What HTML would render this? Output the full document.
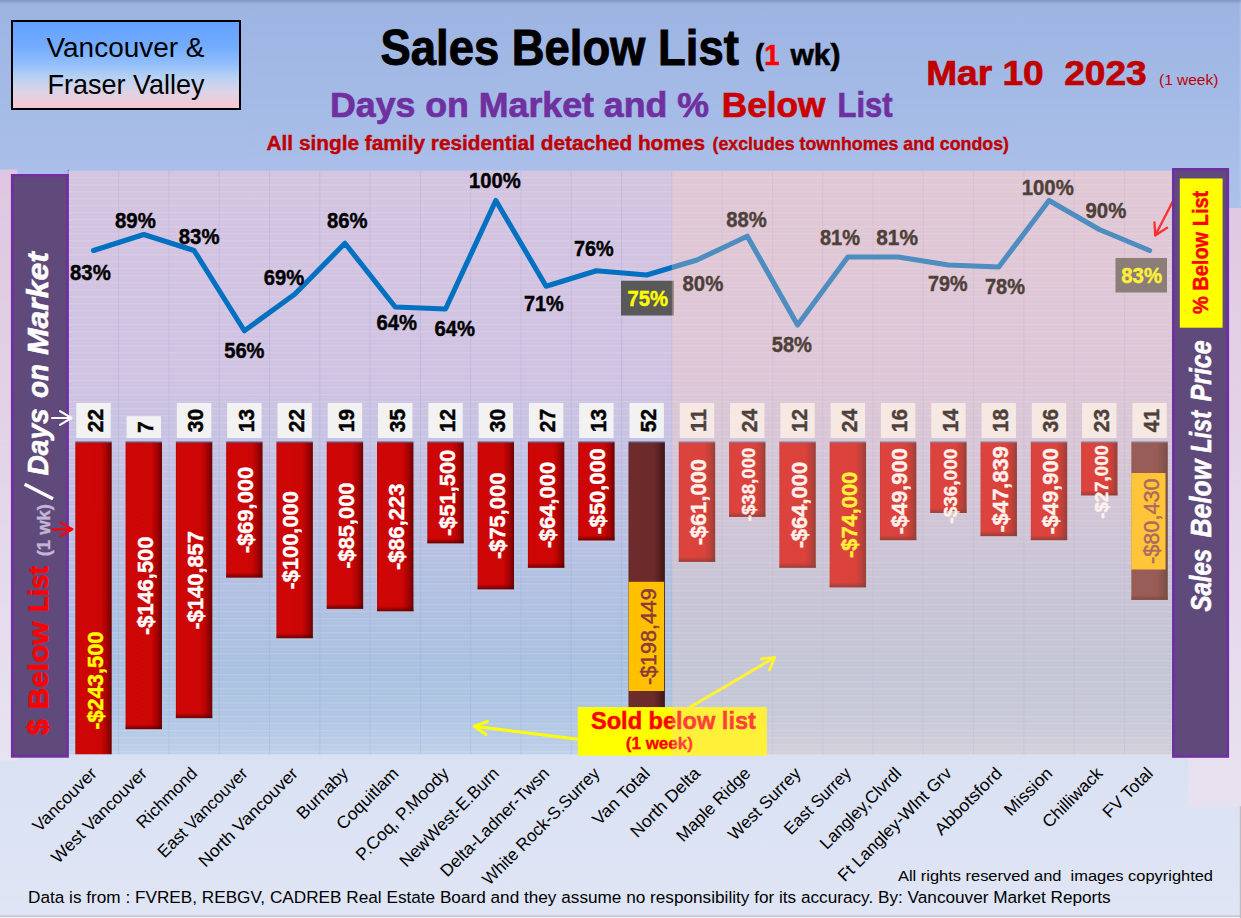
<!DOCTYPE html>
<html><head><meta charset="utf-8"><title>Sales Below List</title>
<style>html,body{margin:0;padding:0;background:#dfe5f5;}body{width:1241px;height:918px;overflow:hidden;}svg{display:block;}text{font-family:"Liberation Sans", sans-serif;}
.b{font-weight:bold;}.i{font-style:italic;}
</style></head><body>
<svg width="1241" height="918" viewBox="0 0 1241 918">
<defs>
<linearGradient id="bg" x1="0" y1="0" x2="0" y2="1"><stop offset="0" stop-color="#9db4e3"/><stop offset="0.18" stop-color="#a9bfe9"/><stop offset="0.85" stop-color="#dbe2f3"/><stop offset="1" stop-color="#dfe5f5"/></linearGradient>
<linearGradient id="topband" x1="0" y1="0" x2="0" y2="1"><stop offset="0" stop-color="#7f8fb6" stop-opacity="0.9"/><stop offset="1" stop-color="#7f8fb6" stop-opacity="0"/></linearGradient>
<linearGradient id="plot" x1="0" y1="0" x2="0" y2="1"><stop offset="0" stop-color="#d3c4e0"/><stop offset="0.35" stop-color="#cfc3e2"/><stop offset="0.50" stop-color="#c3c2e2"/><stop offset="0.62" stop-color="#b9c1e1"/><stop offset="0.735" stop-color="#afc0e0"/><stop offset="0.855" stop-color="#a8c2e0"/><stop offset="0.93" stop-color="#aec6e3"/><stop offset="1" stop-color="#bdd0e9"/></linearGradient>
<linearGradient id="vbox" x1="0" y1="0" x2="0" y2="1"><stop offset="0" stop-color="#639fff"/><stop offset="0.30" stop-color="#74adff"/><stop offset="0.50" stop-color="#94c0fb"/><stop offset="0.65" stop-color="#b9d2f3"/><stop offset="0.80" stop-color="#dcd3e6"/><stop offset="1" stop-color="#f9c7cf"/></linearGradient>
<linearGradient id="lstrip" x1="0" y1="0" x2="0" y2="1"><stop offset="0" stop-color="#dfc6e0"/><stop offset="1" stop-color="#e7e3f1"/></linearGradient>
<linearGradient id="rstrip" x1="0" y1="0" x2="0" y2="1"><stop offset="0" stop-color="#e0c9e2"/><stop offset="1" stop-color="#e8e2f0"/></linearGradient>
<linearGradient id="barR" x1="0" y1="0" x2="1" y2="0"><stop offset="0" stop-color="#b80404"/><stop offset="0.05" stop-color="#cf0606"/><stop offset="0.70" stop-color="#cc0505"/><stop offset="0.86" stop-color="#a60303"/><stop offset="1" stop-color="#6c0000"/></linearGradient>
<linearGradient id="barM" x1="0" y1="0" x2="1" y2="0"><stop offset="0" stop-color="#632626"/><stop offset="0.05" stop-color="#6e2b2b"/><stop offset="0.70" stop-color="#6c2a2a"/><stop offset="0.86" stop-color="#552020"/><stop offset="1" stop-color="#3e1717"/></linearGradient>
<linearGradient id="barBot" x1="0" y1="0" x2="0" y2="1"><stop offset="0" stop-color="#500000" stop-opacity="0"/><stop offset="1" stop-color="#4a0000" stop-opacity="0.75"/></linearGradient>
<pattern id="hstripe" x="0" y="170.0" width="8" height="7" patternUnits="userSpaceOnUse"><rect x="0" y="0" width="8" height="1.4" fill="#fff0ff" fill-opacity="0.15"/><rect x="0" y="3.5" width="8" height="1.2" fill="#fff0ff" fill-opacity="0.06"/></pattern>
<clipPath id="plotclip"><rect x="68.36" y="170.80" width="1103.24" height="583.50"/></clipPath>
</defs>
<rect x="0" y="0" width="1241" height="918" fill="url(#bg)"/>
<rect x="0" y="0" width="1241" height="4" fill="url(#topband)"/>
<rect x="0" y="915.6" width="1241" height="1.2" fill="#b4b6bc"/>
<rect x="0" y="916.8" width="1241" height="1.2" fill="#f2f2f4"/>
<rect x="1239.8" y="806" width="1.2" height="112" fill="#bcbcc2"/>
<rect x="1239.6" y="0" width="1.4" height="206" fill="#ffffff" fill-opacity="0.12"/>
<rect x="0" y="169.6" width="17.4" height="591" fill="url(#lstrip)"/>
<rect x="1188.3" y="208" width="52.7" height="598.3" fill="url(#rstrip)"/>
<rect x="67.9" y="169.8" width="1" height="5" fill="#5a5070"/>
<rect x="68.36" y="170.80" width="1103.24" height="583.50" fill="url(#plot)"/>
<rect x="68.36" y="170.80" width="1103.24" height="583.50" fill="url(#hstripe)"/>
<rect x="118.15" y="170.80" width="1" height="583.50" fill="#9aa0dc" fill-opacity="0.28"/>
<rect x="168.44" y="170.80" width="1" height="583.50" fill="#9aa0dc" fill-opacity="0.28"/>
<rect x="218.73" y="170.80" width="1" height="583.50" fill="#9aa0dc" fill-opacity="0.28"/>
<rect x="269.01" y="170.80" width="1" height="583.50" fill="#9aa0dc" fill-opacity="0.28"/>
<rect x="319.31" y="170.80" width="1" height="583.50" fill="#9aa0dc" fill-opacity="0.28"/>
<rect x="369.60" y="170.80" width="1" height="583.50" fill="#9aa0dc" fill-opacity="0.28"/>
<rect x="419.88" y="170.80" width="1" height="583.50" fill="#9aa0dc" fill-opacity="0.28"/>
<rect x="470.18" y="170.80" width="1" height="583.50" fill="#9aa0dc" fill-opacity="0.28"/>
<rect x="520.47" y="170.80" width="1" height="583.50" fill="#9aa0dc" fill-opacity="0.28"/>
<rect x="570.75" y="170.80" width="1" height="583.50" fill="#9aa0dc" fill-opacity="0.28"/>
<rect x="621.04" y="170.80" width="1" height="583.50" fill="#9aa0dc" fill-opacity="0.28"/>
<rect x="671.34" y="170.80" width="1" height="583.50" fill="#9aa0dc" fill-opacity="0.28"/>
<rect x="721.62" y="170.80" width="1" height="583.50" fill="#9aa0dc" fill-opacity="0.28"/>
<rect x="771.91" y="170.80" width="1" height="583.50" fill="#9aa0dc" fill-opacity="0.28"/>
<rect x="822.21" y="170.80" width="1" height="583.50" fill="#9aa0dc" fill-opacity="0.28"/>
<rect x="872.50" y="170.80" width="1" height="583.50" fill="#9aa0dc" fill-opacity="0.28"/>
<rect x="922.78" y="170.80" width="1" height="583.50" fill="#9aa0dc" fill-opacity="0.28"/>
<rect x="973.08" y="170.80" width="1" height="583.50" fill="#9aa0dc" fill-opacity="0.28"/>
<rect x="1023.37" y="170.80" width="1" height="583.50" fill="#9aa0dc" fill-opacity="0.28"/>
<rect x="1073.65" y="170.80" width="1" height="583.50" fill="#9aa0dc" fill-opacity="0.28"/>
<rect x="1123.94" y="170.80" width="1" height="583.50" fill="#9aa0dc" fill-opacity="0.28"/>
<g clip-path="url(#plotclip)">
<rect x="75.30" y="442.50" width="36.40" height="476.41" fill="url(#barR)"/>
<rect x="75.30" y="441.50" width="36.40" height="1.2" fill="#2a2f6a" fill-opacity="0.75"/>
<rect x="125.59" y="442.50" width="36.40" height="286.63" fill="url(#barR)"/>
<rect x="125.59" y="724.13" width="36.40" height="5" fill="url(#barBot)"/>
<rect x="125.59" y="441.50" width="36.40" height="1.2" fill="#2a2f6a" fill-opacity="0.75"/>
<rect x="175.88" y="442.50" width="36.40" height="275.59" fill="url(#barR)"/>
<rect x="175.88" y="713.09" width="36.40" height="5" fill="url(#barBot)"/>
<rect x="175.88" y="441.50" width="36.40" height="1.2" fill="#2a2f6a" fill-opacity="0.75"/>
<rect x="226.17" y="442.50" width="36.40" height="135.00" fill="url(#barR)"/>
<rect x="226.17" y="572.50" width="36.40" height="5" fill="url(#barBot)"/>
<rect x="226.17" y="441.50" width="36.40" height="1.2" fill="#2a2f6a" fill-opacity="0.75"/>
<rect x="276.46" y="442.50" width="36.40" height="195.65" fill="url(#barR)"/>
<rect x="276.46" y="633.15" width="36.40" height="5" fill="url(#barBot)"/>
<rect x="276.46" y="441.50" width="36.40" height="1.2" fill="#2a2f6a" fill-opacity="0.75"/>
<rect x="326.75" y="442.50" width="36.40" height="166.30" fill="url(#barR)"/>
<rect x="326.75" y="603.80" width="36.40" height="5" fill="url(#barBot)"/>
<rect x="326.75" y="441.50" width="36.40" height="1.2" fill="#2a2f6a" fill-opacity="0.75"/>
<rect x="377.04" y="442.50" width="36.40" height="168.70" fill="url(#barR)"/>
<rect x="377.04" y="606.20" width="36.40" height="5" fill="url(#barBot)"/>
<rect x="377.04" y="441.50" width="36.40" height="1.2" fill="#2a2f6a" fill-opacity="0.75"/>
<rect x="427.33" y="442.50" width="36.40" height="100.76" fill="url(#barR)"/>
<rect x="427.33" y="538.26" width="36.40" height="5" fill="url(#barBot)"/>
<rect x="427.33" y="441.50" width="36.40" height="1.2" fill="#2a2f6a" fill-opacity="0.75"/>
<rect x="477.62" y="442.50" width="36.40" height="146.74" fill="url(#barR)"/>
<rect x="477.62" y="584.24" width="36.40" height="5" fill="url(#barBot)"/>
<rect x="477.62" y="441.50" width="36.40" height="1.2" fill="#2a2f6a" fill-opacity="0.75"/>
<rect x="527.91" y="442.50" width="36.40" height="125.22" fill="url(#barR)"/>
<rect x="527.91" y="562.72" width="36.40" height="5" fill="url(#barBot)"/>
<rect x="527.91" y="441.50" width="36.40" height="1.2" fill="#2a2f6a" fill-opacity="0.75"/>
<rect x="578.20" y="442.50" width="36.40" height="97.83" fill="url(#barR)"/>
<rect x="578.20" y="535.33" width="36.40" height="5" fill="url(#barBot)"/>
<rect x="578.20" y="441.50" width="36.40" height="1.2" fill="#2a2f6a" fill-opacity="0.75"/>
<rect x="628.49" y="442.50" width="36.40" height="388.27" fill="url(#barM)"/>
<rect x="628.49" y="441.50" width="36.40" height="1.2" fill="#2a2f6a" fill-opacity="0.75"/>
<rect x="678.78" y="442.50" width="36.40" height="119.35" fill="url(#barR)"/>
<rect x="678.78" y="556.85" width="36.40" height="5" fill="url(#barBot)"/>
<rect x="678.78" y="441.50" width="36.40" height="1.2" fill="#2a2f6a" fill-opacity="0.75"/>
<rect x="729.07" y="442.50" width="36.40" height="74.35" fill="url(#barR)"/>
<rect x="729.07" y="511.85" width="36.40" height="5" fill="url(#barBot)"/>
<rect x="729.07" y="441.50" width="36.40" height="1.2" fill="#2a2f6a" fill-opacity="0.75"/>
<rect x="779.36" y="442.50" width="36.40" height="125.22" fill="url(#barR)"/>
<rect x="779.36" y="562.72" width="36.40" height="5" fill="url(#barBot)"/>
<rect x="779.36" y="441.50" width="36.40" height="1.2" fill="#2a2f6a" fill-opacity="0.75"/>
<rect x="829.65" y="442.50" width="36.40" height="144.78" fill="url(#barR)"/>
<rect x="829.65" y="582.28" width="36.40" height="5" fill="url(#barBot)"/>
<rect x="829.65" y="441.50" width="36.40" height="1.2" fill="#2a2f6a" fill-opacity="0.75"/>
<rect x="879.94" y="442.50" width="36.40" height="97.63" fill="url(#barR)"/>
<rect x="879.94" y="535.13" width="36.40" height="5" fill="url(#barBot)"/>
<rect x="879.94" y="441.50" width="36.40" height="1.2" fill="#2a2f6a" fill-opacity="0.75"/>
<rect x="930.23" y="442.50" width="36.40" height="70.43" fill="url(#barR)"/>
<rect x="930.23" y="507.93" width="36.40" height="5" fill="url(#barBot)"/>
<rect x="930.23" y="441.50" width="36.40" height="1.2" fill="#2a2f6a" fill-opacity="0.75"/>
<rect x="980.52" y="442.50" width="36.40" height="93.60" fill="url(#barR)"/>
<rect x="980.52" y="531.10" width="36.40" height="5" fill="url(#barBot)"/>
<rect x="980.52" y="441.50" width="36.40" height="1.2" fill="#2a2f6a" fill-opacity="0.75"/>
<rect x="1030.81" y="442.50" width="36.40" height="97.63" fill="url(#barR)"/>
<rect x="1030.81" y="535.13" width="36.40" height="5" fill="url(#barBot)"/>
<rect x="1030.81" y="441.50" width="36.40" height="1.2" fill="#2a2f6a" fill-opacity="0.75"/>
<rect x="1081.10" y="442.50" width="36.40" height="52.83" fill="url(#barR)"/>
<rect x="1081.10" y="490.33" width="36.40" height="5" fill="url(#barBot)"/>
<rect x="1081.10" y="441.50" width="36.40" height="1.2" fill="#2a2f6a" fill-opacity="0.75"/>
<rect x="1131.39" y="442.50" width="36.40" height="157.36" fill="url(#barM)"/>
<rect x="1131.39" y="594.86" width="36.40" height="5" fill="url(#barBot)"/>
<rect x="1131.39" y="441.50" width="36.40" height="1.2" fill="#2a2f6a" fill-opacity="0.75"/>
</g>
<rect x="76.30" y="403.00" width="34.4" height="35.00" fill="#f2f2f2"/>
<text class="b" transform="translate(102.80,420.50) rotate(-90)" text-anchor="middle" font-size="21.6" textLength="23.25" lengthAdjust="spacingAndGlyphs" fill="#000" stroke="#000" stroke-width="0.43">22</text>
<rect x="126.59" y="416.25" width="34.4" height="21.75" fill="#f2f2f2"/>
<text class="b" transform="translate(153.09,427.12) rotate(-90)" text-anchor="middle" font-size="21.6" textLength="11.60" lengthAdjust="spacingAndGlyphs" fill="#000" stroke="#000" stroke-width="0.43">7</text>
<rect x="176.88" y="403.00" width="34.4" height="35.00" fill="#f2f2f2"/>
<text class="b" transform="translate(203.38,420.50) rotate(-90)" text-anchor="middle" font-size="21.6" textLength="23.25" lengthAdjust="spacingAndGlyphs" fill="#000" stroke="#000" stroke-width="0.43">30</text>
<rect x="227.17" y="403.00" width="34.4" height="35.00" fill="#f2f2f2"/>
<text class="b" transform="translate(253.67,420.50) rotate(-90)" text-anchor="middle" font-size="21.6" textLength="23.25" lengthAdjust="spacingAndGlyphs" fill="#000" stroke="#000" stroke-width="0.43">13</text>
<rect x="277.46" y="403.00" width="34.4" height="35.00" fill="#f2f2f2"/>
<text class="b" transform="translate(303.96,420.50) rotate(-90)" text-anchor="middle" font-size="21.6" textLength="23.25" lengthAdjust="spacingAndGlyphs" fill="#000" stroke="#000" stroke-width="0.43">22</text>
<rect x="327.75" y="403.00" width="34.4" height="35.00" fill="#f2f2f2"/>
<text class="b" transform="translate(354.25,420.50) rotate(-90)" text-anchor="middle" font-size="21.6" textLength="23.25" lengthAdjust="spacingAndGlyphs" fill="#000" stroke="#000" stroke-width="0.43">19</text>
<rect x="378.04" y="403.00" width="34.4" height="35.00" fill="#f2f2f2"/>
<text class="b" transform="translate(404.54,420.50) rotate(-90)" text-anchor="middle" font-size="21.6" textLength="23.25" lengthAdjust="spacingAndGlyphs" fill="#000" stroke="#000" stroke-width="0.43">35</text>
<rect x="428.33" y="403.00" width="34.4" height="35.00" fill="#f2f2f2"/>
<text class="b" transform="translate(454.83,420.50) rotate(-90)" text-anchor="middle" font-size="21.6" textLength="23.25" lengthAdjust="spacingAndGlyphs" fill="#000" stroke="#000" stroke-width="0.43">12</text>
<rect x="478.62" y="403.00" width="34.4" height="35.00" fill="#f2f2f2"/>
<text class="b" transform="translate(505.12,420.50) rotate(-90)" text-anchor="middle" font-size="21.6" textLength="23.25" lengthAdjust="spacingAndGlyphs" fill="#000" stroke="#000" stroke-width="0.43">30</text>
<rect x="528.91" y="403.00" width="34.4" height="35.00" fill="#f2f2f2"/>
<text class="b" transform="translate(555.41,420.50) rotate(-90)" text-anchor="middle" font-size="21.6" textLength="23.25" lengthAdjust="spacingAndGlyphs" fill="#000" stroke="#000" stroke-width="0.43">27</text>
<rect x="579.20" y="403.00" width="34.4" height="35.00" fill="#f2f2f2"/>
<text class="b" transform="translate(605.70,420.50) rotate(-90)" text-anchor="middle" font-size="21.6" textLength="23.25" lengthAdjust="spacingAndGlyphs" fill="#000" stroke="#000" stroke-width="0.43">13</text>
<rect x="629.49" y="403.00" width="34.4" height="35.00" fill="#f2f2f2"/>
<text class="b" transform="translate(655.99,420.50) rotate(-90)" text-anchor="middle" font-size="21.6" textLength="23.25" lengthAdjust="spacingAndGlyphs" fill="#000" stroke="#000" stroke-width="0.43">52</text>
<rect x="679.78" y="403.00" width="34.4" height="35.00" fill="#f2f2f2"/>
<text class="b" transform="translate(706.28,420.50) rotate(-90)" text-anchor="middle" font-size="21.6" textLength="23.25" lengthAdjust="spacingAndGlyphs" fill="#000" stroke="#000" stroke-width="0.43">11</text>
<rect x="730.07" y="403.00" width="34.4" height="35.00" fill="#f2f2f2"/>
<text class="b" transform="translate(756.57,420.50) rotate(-90)" text-anchor="middle" font-size="21.6" textLength="23.25" lengthAdjust="spacingAndGlyphs" fill="#000" stroke="#000" stroke-width="0.43">24</text>
<rect x="780.36" y="403.00" width="34.4" height="35.00" fill="#f2f2f2"/>
<text class="b" transform="translate(806.86,420.50) rotate(-90)" text-anchor="middle" font-size="21.6" textLength="23.25" lengthAdjust="spacingAndGlyphs" fill="#000" stroke="#000" stroke-width="0.43">12</text>
<rect x="830.65" y="403.00" width="34.4" height="35.00" fill="#f2f2f2"/>
<text class="b" transform="translate(857.15,420.50) rotate(-90)" text-anchor="middle" font-size="21.6" textLength="23.25" lengthAdjust="spacingAndGlyphs" fill="#000" stroke="#000" stroke-width="0.43">24</text>
<rect x="880.94" y="403.00" width="34.4" height="35.00" fill="#f2f2f2"/>
<text class="b" transform="translate(907.44,420.50) rotate(-90)" text-anchor="middle" font-size="21.6" textLength="23.25" lengthAdjust="spacingAndGlyphs" fill="#000" stroke="#000" stroke-width="0.43">16</text>
<rect x="931.23" y="403.00" width="34.4" height="35.00" fill="#f2f2f2"/>
<text class="b" transform="translate(957.73,420.50) rotate(-90)" text-anchor="middle" font-size="21.6" textLength="23.25" lengthAdjust="spacingAndGlyphs" fill="#000" stroke="#000" stroke-width="0.43">14</text>
<rect x="981.52" y="403.00" width="34.4" height="35.00" fill="#f2f2f2"/>
<text class="b" transform="translate(1008.02,420.50) rotate(-90)" text-anchor="middle" font-size="21.6" textLength="23.25" lengthAdjust="spacingAndGlyphs" fill="#000" stroke="#000" stroke-width="0.43">18</text>
<rect x="1031.81" y="403.00" width="34.4" height="35.00" fill="#f2f2f2"/>
<text class="b" transform="translate(1058.31,420.50) rotate(-90)" text-anchor="middle" font-size="21.6" textLength="23.25" lengthAdjust="spacingAndGlyphs" fill="#000" stroke="#000" stroke-width="0.43">36</text>
<rect x="1082.10" y="403.00" width="34.4" height="35.00" fill="#f2f2f2"/>
<text class="b" transform="translate(1108.60,420.50) rotate(-90)" text-anchor="middle" font-size="21.6" textLength="23.25" lengthAdjust="spacingAndGlyphs" fill="#000" stroke="#000" stroke-width="0.43">23</text>
<rect x="1132.39" y="403.00" width="34.4" height="35.00" fill="#f2f2f2"/>
<text class="b" transform="translate(1158.89,420.50) rotate(-90)" text-anchor="middle" font-size="21.6" textLength="23.25" lengthAdjust="spacingAndGlyphs" fill="#000" stroke="#000" stroke-width="0.43">41</text>
<rect x="628.7" y="581.8" width="35.4" height="109.2" fill="#ffc000"/>
<rect x="1131.25" y="473" width="34.25" height="96.5" fill="#ffc000"/>
<text class="b" transform="translate(102.50,680.70) rotate(-90)" text-anchor="middle" font-size="21.6" textLength="98.30" lengthAdjust="spacingAndGlyphs" fill="#ffff00" stroke="#ffff00" stroke-width="0.43">-$243,500</text>
<text class="b" transform="translate(152.79,585.81) rotate(-90)" text-anchor="middle" font-size="21.6" textLength="98.30" lengthAdjust="spacingAndGlyphs" fill="#fff" stroke="#fff" stroke-width="0.43">-$146,500</text>
<text class="b" transform="translate(203.08,580.29) rotate(-90)" text-anchor="middle" font-size="21.6" textLength="98.30" lengthAdjust="spacingAndGlyphs" fill="#fff" stroke="#fff" stroke-width="0.43">-$140,857</text>
<text class="b" transform="translate(253.37,510.00) rotate(-90)" text-anchor="middle" font-size="21.6" textLength="86.30" lengthAdjust="spacingAndGlyphs" fill="#fff" stroke="#fff" stroke-width="0.43">-$69,000</text>
<text class="b" transform="translate(297.56,540.33) rotate(-90)" text-anchor="middle" font-size="21.6" textLength="98.30" lengthAdjust="spacingAndGlyphs" fill="#fff" stroke="#fff" stroke-width="0.43">-$100,000</text>
<text class="b" transform="translate(353.95,525.65) rotate(-90)" text-anchor="middle" font-size="21.6" textLength="86.30" lengthAdjust="spacingAndGlyphs" fill="#fff" stroke="#fff" stroke-width="0.43">-$85,000</text>
<text class="b" transform="translate(404.24,526.85) rotate(-90)" text-anchor="middle" font-size="21.6" textLength="86.30" lengthAdjust="spacingAndGlyphs" fill="#fff" stroke="#fff" stroke-width="0.43">-$86,223</text>
<text class="b" transform="translate(454.53,492.88) rotate(-90)" text-anchor="middle" font-size="21.6" textLength="86.30" lengthAdjust="spacingAndGlyphs" fill="#fff" stroke="#fff" stroke-width="0.43">-$51,500</text>
<text class="b" transform="translate(504.82,515.87) rotate(-90)" text-anchor="middle" font-size="21.6" textLength="86.30" lengthAdjust="spacingAndGlyphs" fill="#fff" stroke="#fff" stroke-width="0.43">-$75,000</text>
<text class="b" transform="translate(555.11,505.11) rotate(-90)" text-anchor="middle" font-size="21.6" textLength="86.30" lengthAdjust="spacingAndGlyphs" fill="#fff" stroke="#fff" stroke-width="0.43">-$64,000</text>
<text class="b" transform="translate(605.40,491.41) rotate(-90)" text-anchor="middle" font-size="21.6" textLength="86.30" lengthAdjust="spacingAndGlyphs" fill="#fff" stroke="#fff" stroke-width="0.43">-$50,000</text>
<text class="" transform="translate(655.69,636.63) rotate(-90)" text-anchor="middle" font-size="21.6" textLength="96.70" lengthAdjust="spacingAndGlyphs" fill="#8b3a3a" stroke="#8b3a3a" stroke-width="0.45">-$198,449</text>
<text class="b" transform="translate(705.98,502.17) rotate(-90)" text-anchor="middle" font-size="21.6" textLength="86.30" lengthAdjust="spacingAndGlyphs" fill="#fff" stroke="#fff" stroke-width="0.43">-$61,000</text>
<text class="b" transform="translate(755.47,484.40) rotate(-90)" text-anchor="middle" font-size="19.0" textLength="73.75" lengthAdjust="spacingAndGlyphs" fill="#fff" stroke="#fff" stroke-width="0.38">-$38,000</text>
<text class="b" transform="translate(806.56,505.11) rotate(-90)" text-anchor="middle" font-size="21.6" textLength="86.30" lengthAdjust="spacingAndGlyphs" fill="#fff" stroke="#fff" stroke-width="0.43">-$64,000</text>
<text class="b" transform="translate(856.85,514.89) rotate(-90)" text-anchor="middle" font-size="21.6" textLength="86.30" lengthAdjust="spacingAndGlyphs" fill="#ffff00" stroke="#ffff00" stroke-width="0.43">-$74,000</text>
<text class="b" transform="translate(907.14,491.31) rotate(-90)" text-anchor="middle" font-size="21.6" textLength="86.30" lengthAdjust="spacingAndGlyphs" fill="#fff" stroke="#fff" stroke-width="0.43">-$49,900</text>
<text class="b" transform="translate(956.63,486.20) rotate(-90)" text-anchor="middle" font-size="19.0" textLength="75.00" lengthAdjust="spacingAndGlyphs" fill="#fff" stroke="#fff" stroke-width="0.38">-$36,000</text>
<text class="b" transform="translate(1007.72,489.30) rotate(-90)" text-anchor="middle" font-size="21.6" textLength="86.30" lengthAdjust="spacingAndGlyphs" fill="#fff" stroke="#fff" stroke-width="0.43">-$47,839</text>
<text class="b" transform="translate(1058.01,491.31) rotate(-90)" text-anchor="middle" font-size="21.6" textLength="86.30" lengthAdjust="spacingAndGlyphs" fill="#fff" stroke="#fff" stroke-width="0.43">-$49,900</text>
<text class="b" transform="translate(1107.50,481.90) rotate(-90)" text-anchor="middle" font-size="19.0" textLength="73.75" lengthAdjust="spacingAndGlyphs" fill="#fff" stroke="#fff" stroke-width="0.38">-$27,000</text>
<text class="" transform="translate(1158.59,521.18) rotate(-90)" text-anchor="middle" font-size="21.6" textLength="85.75" lengthAdjust="spacingAndGlyphs" fill="#8b3a3a" stroke="#8b3a3a" stroke-width="0.45">-$80,430</text>
<polyline points="93.50,250.50 143.79,234.50 194.08,250.50 244.37,330.75 294.66,294.25 344.95,243.25 395.24,307.00 445.53,309.00 495.82,200.50 546.11,286.25 596.40,270.75 646.69,275.00 696.98,260.00 747.27,236.25 797.56,325.00 847.85,257.00 898.14,257.00 948.43,265.00 998.72,267.00 1049.01,200.50 1099.30,229.50 1149.59,250.50" fill="none" stroke="#0070c0" stroke-width="5.1" stroke-linejoin="round" stroke-linecap="round"/>
<rect x="621" y="280.75" width="52.75" height="34.75" fill="#595959"/>
<rect x="1115.5" y="258" width="51.5" height="34.5" fill="#595959"/>
<text class="b" x="70.00" y="280.00" font-size="21.4" textLength="40.75" lengthAdjust="spacingAndGlyphs" fill="#000" stroke="#000" stroke-width="0.43">83%</text>
<text class="b" x="115.00" y="228.00" font-size="21.4" textLength="40.75" lengthAdjust="spacingAndGlyphs" fill="#000" stroke="#000" stroke-width="0.43">89%</text>
<text class="b" x="178.75" y="244.25" font-size="21.4" textLength="40.75" lengthAdjust="spacingAndGlyphs" fill="#000" stroke="#000" stroke-width="0.43">83%</text>
<text class="b" x="224.25" y="358.00" font-size="21.4" textLength="40.25" lengthAdjust="spacingAndGlyphs" fill="#000" stroke="#000" stroke-width="0.43">56%</text>
<text class="b" x="263.75" y="284.50" font-size="21.4" textLength="40.50" lengthAdjust="spacingAndGlyphs" fill="#000" stroke="#000" stroke-width="0.43">69%</text>
<text class="b" x="327.00" y="228.25" font-size="21.4" textLength="40.50" lengthAdjust="spacingAndGlyphs" fill="#000" stroke="#000" stroke-width="0.43">86%</text>
<text class="b" x="376.50" y="330.00" font-size="21.4" textLength="40.50" lengthAdjust="spacingAndGlyphs" fill="#000" stroke="#000" stroke-width="0.43">64%</text>
<text class="b" x="434.50" y="335.50" font-size="21.4" textLength="40.50" lengthAdjust="spacingAndGlyphs" fill="#000" stroke="#000" stroke-width="0.43">64%</text>
<text class="b" x="469.00" y="188.00" font-size="21.4" textLength="51.75" lengthAdjust="spacingAndGlyphs" fill="#000" stroke="#000" stroke-width="0.43">100%</text>
<text class="b" x="524.00" y="311.00" font-size="21.4" textLength="39.75" lengthAdjust="spacingAndGlyphs" fill="#000" stroke="#000" stroke-width="0.43">71%</text>
<text class="b" x="574.00" y="255.50" font-size="21.4" textLength="39.75" lengthAdjust="spacingAndGlyphs" fill="#000" stroke="#000" stroke-width="0.43">76%</text>
<text class="b" x="627.50" y="306.25" font-size="21.4" textLength="40.50" lengthAdjust="spacingAndGlyphs" fill="#ffff00" stroke="#ffff00" stroke-width="0.43">75%</text>
<text class="b" x="682.50" y="290.75" font-size="21.4" textLength="40.75" lengthAdjust="spacingAndGlyphs" fill="#000" stroke="#000" stroke-width="0.43">80%</text>
<text class="b" x="726.25" y="227.00" font-size="21.4" textLength="40.50" lengthAdjust="spacingAndGlyphs" fill="#000" stroke="#000" stroke-width="0.43">88%</text>
<text class="b" x="771.75" y="351.75" font-size="21.4" textLength="40.25" lengthAdjust="spacingAndGlyphs" fill="#000" stroke="#000" stroke-width="0.43">58%</text>
<text class="b" x="820.00" y="245.00" font-size="21.4" textLength="40.00" lengthAdjust="spacingAndGlyphs" fill="#000" stroke="#000" stroke-width="0.43">81%</text>
<text class="b" x="876.25" y="245.00" font-size="21.4" textLength="41.75" lengthAdjust="spacingAndGlyphs" fill="#000" stroke="#000" stroke-width="0.43">81%</text>
<text class="b" x="928.00" y="290.75" font-size="21.4" textLength="39.50" lengthAdjust="spacingAndGlyphs" fill="#000" stroke="#000" stroke-width="0.43">79%</text>
<text class="b" x="985.00" y="293.75" font-size="21.4" textLength="40.00" lengthAdjust="spacingAndGlyphs" fill="#000" stroke="#000" stroke-width="0.43">78%</text>
<text class="b" x="1021.75" y="195.00" font-size="21.4" textLength="52.00" lengthAdjust="spacingAndGlyphs" fill="#000" stroke="#000" stroke-width="0.43">100%</text>
<text class="b" x="1085.50" y="217.50" font-size="21.4" textLength="40.75" lengthAdjust="spacingAndGlyphs" fill="#000" stroke="#000" stroke-width="0.43">90%</text>
<text class="b" x="1121.25" y="283.00" font-size="21.4" textLength="40.75" lengthAdjust="spacingAndGlyphs" fill="#ffff00" stroke="#ffff00" stroke-width="0.43">83%</text>
<g stroke="#ffff00" stroke-width="3" fill="none" stroke-linecap="round" stroke-linejoin="round">
<path d="M577.8 739.2 L474.2 726.3 M487.4 721.4 L474.2 726.3 L486 734.5"/>
<path d="M690.1 707.1 L774.5 657.5 M761.4 658.9 L774.5 657.5 L769.6 669.9"/>
</g>
<rect x="577.8" y="707.1" width="189" height="48.5" fill="#ffff00"/>
<text class="b" x="591" y="729" font-size="23" textLength="164.9" lengthAdjust="spacingAndGlyphs" fill="#ff0000" stroke="#ff0000" stroke-width="0.46">Sold below list</text>
<text class="b" x="625.8" y="749.1" font-size="16.5" textLength="67.1" lengthAdjust="spacingAndGlyphs" fill="#ff0000" stroke="#ff0000" stroke-width="0.33">(1 week)</text>
<rect x="671.84" y="170.80" width="499.76" height="584.80" fill="rgb(255,210,190)" fill-opacity="0.30"/>
<g stroke="#ff3030" stroke-width="2.3" fill="none" stroke-linecap="round" stroke-linejoin="round">
<path d="M1172.6 201.7 L1155.2 235.5 M1154.5 222.4 L1155.2 235.5 L1167.1 227.8"/>
</g>
<rect x="12.3" y="175.4" width="55.2" height="580.9" fill="#604a7b" stroke="#7030a0" stroke-width="2.8"/>
<text class="b" transform="translate(48.4,727.2) rotate(-90)" text-anchor="middle" font-size="29" fill="#ff0000" stroke="#ff0000" stroke-width="0.58">$</text>
<text class="b" transform="translate(48.4,709.3) rotate(-90)" font-size="28" textLength="87.9" lengthAdjust="spacingAndGlyphs" fill="#ff0000" stroke="#ff0000" stroke-width="0.56">Below</text>
<text class="b" transform="translate(48.4,612.0) rotate(-90)" font-size="28" textLength="46.2" lengthAdjust="spacingAndGlyphs" fill="#ff0000" stroke="#ff0000" stroke-width="0.56">List</text>
<text class="b" transform="translate(50.3,556.3) rotate(-90)" font-size="19" textLength="52.3" lengthAdjust="spacingAndGlyphs" fill="#c3b5d6" stroke="#c3b5d6" stroke-width="0.38">(1 wk)</text>
<path d="M24.6 484.2 L53 498.8" stroke="#fff" stroke-width="3.5" fill="none"/>
<text class="b i" transform="translate(48.4,475.4) rotate(-90)" font-size="28.6" textLength="67.0" lengthAdjust="spacingAndGlyphs" fill="#fff" stroke="#fff" stroke-width="0.57">Days</text>
<text class="b i" transform="translate(48.4,397.9) rotate(-90)" font-size="28.6" textLength="34.0" lengthAdjust="spacingAndGlyphs" fill="#fff" stroke="#fff" stroke-width="0.57">on</text>
<text class="b i" transform="translate(48.4,355.0) rotate(-90)" font-size="28.6" textLength="102.8" lengthAdjust="spacingAndGlyphs" fill="#fff" stroke="#fff" stroke-width="0.57">Market</text>
<g stroke="#fff" stroke-width="2.1" fill="none" stroke-linecap="round" stroke-linejoin="round">
<path d="M52 418 L71.5 418 M60 411.2 L71.5 418 L60 424.8"/></g>
<g stroke="#ff0000" stroke-width="2.2" fill="none" stroke-linecap="round" stroke-linejoin="round">
<path d="M52.5 529.3 L72.5 529.3 M60.5 522.6 L72.5 529.3 L60.5 536"/></g>
<rect x="1173.4" y="169.4" width="54.3" height="587" fill="#604a7b" stroke="#7030a0" stroke-width="2.8"/>
<rect x="1179.8" y="178.5" width="42.8" height="149.2" fill="#ffff00"/>
<text class="b" transform="translate(1207.5,314) rotate(-90)" font-size="21.4" textLength="123.2" lengthAdjust="spacingAndGlyphs" fill="#ff0000" stroke="#ff0000" stroke-width="0.43">% Below List</text>
<text class="b i" transform="translate(1211,611.6) rotate(-90)" font-size="28.6" textLength="62.7" lengthAdjust="spacingAndGlyphs" fill="#fff" stroke="#fff" stroke-width="0.57">Sales</text>
<text class="b i" transform="translate(1211,537.5) rotate(-90)" font-size="28.6" textLength="77.7" lengthAdjust="spacingAndGlyphs" fill="#fff" stroke="#fff" stroke-width="0.57">Below</text>
<text class="b i" transform="translate(1211,452.8) rotate(-90)" font-size="28.6" textLength="41.8" lengthAdjust="spacingAndGlyphs" fill="#fff" stroke="#fff" stroke-width="0.57">List</text>
<text class="b i" transform="translate(1211,401.4) rotate(-90)" font-size="28.6" textLength="60.9" lengthAdjust="spacingAndGlyphs" fill="#fff" stroke="#fff" stroke-width="0.57">Price</text>
<rect x="12" y="21" width="228" height="88" fill="url(#vbox)" stroke="#000" stroke-width="2"/>
<text x="46.5" y="57.3" font-size="27.4" textLength="158" lengthAdjust="spacingAndGlyphs" fill="#000">Vancouver &amp;</text>
<text x="47.5" y="93.75" font-size="27.4" textLength="157" lengthAdjust="spacingAndGlyphs" fill="#000">Fraser Valley</text>
<text class="b" x="380.5" y="65" font-size="49.6" textLength="358.25" lengthAdjust="spacingAndGlyphs" fill="#000" stroke="#000" stroke-width="0.99">Sales Below List</text>
<text class="b" x="755" y="64.5" font-size="29" textLength="24.5" lengthAdjust="spacingAndGlyphs" fill="#000" stroke="#000" stroke-width="0.58">(<tspan fill="#ff0000" stroke="#ff0000">1</tspan></text>
<text class="b" x="790.5" y="64.5" font-size="29" textLength="50" lengthAdjust="spacingAndGlyphs" fill="#000" stroke="#000" stroke-width="0.58">wk)</text>
<text class="b" x="330" y="117" font-size="34.2" textLength="379" lengthAdjust="spacingAndGlyphs" fill="#7030a0" stroke="#7030a0" stroke-width="0.68">Days on Market and %</text>
<text class="b" x="721.75" y="117" font-size="34.2" textLength="103.75" lengthAdjust="spacingAndGlyphs" fill="#cc0000" stroke="#cc0000" stroke-width="0.68">Below</text>
<text class="b" x="837.5" y="117" font-size="34.2" textLength="55" lengthAdjust="spacingAndGlyphs" fill="#7030a0" stroke="#7030a0" stroke-width="0.68">List</text>
<text class="b" x="266.5" y="149.5" font-size="20.3" textLength="438.5" lengthAdjust="spacingAndGlyphs" fill="#c00000" stroke="#c00000" stroke-width="0.41">All single family residential detached homes</text>
<text class="b" x="712.5" y="149.5" font-size="18.2" textLength="296.5" lengthAdjust="spacingAndGlyphs" fill="#c00000" stroke="#c00000" stroke-width="0.36">(excludes townhomes and condos)</text>
<text class="b" x="926.2" y="84.9" font-size="35.7" textLength="220.5" lengthAdjust="spacingAndGlyphs" fill="#c00000" xml:space="preserve" stroke="#c00000" stroke-width="0.71">Mar 10  2023</text>
<text x="1159" y="84.9" font-size="14.6" textLength="59.4" lengthAdjust="spacingAndGlyphs" fill="#c00000">(1 week)</text>
<text transform="translate(97.80,774.50) rotate(-45)" text-anchor="end" font-size="17.2" textLength="82.55" lengthAdjust="spacingAndGlyphs" fill="#000">Vancouver</text>
<text transform="translate(148.09,774.50) rotate(-45)" text-anchor="end" font-size="17.2" textLength="127.01" lengthAdjust="spacingAndGlyphs" fill="#000">West Vancouver</text>
<text transform="translate(198.38,774.50) rotate(-45)" text-anchor="end" font-size="17.2" textLength="77.82" lengthAdjust="spacingAndGlyphs" fill="#000">Richmond</text>
<text transform="translate(248.67,774.50) rotate(-45)" text-anchor="end" font-size="17.2" textLength="119.02" lengthAdjust="spacingAndGlyphs" fill="#000">East Vancouver</text>
<text transform="translate(298.96,774.50) rotate(-45)" text-anchor="end" font-size="17.2" textLength="132.11" lengthAdjust="spacingAndGlyphs" fill="#000">North Vancouver</text>
<text transform="translate(349.25,774.50) rotate(-45)" text-anchor="end" font-size="17.2" textLength="64.60" lengthAdjust="spacingAndGlyphs" fill="#000">Burnaby</text>
<text transform="translate(399.54,774.50) rotate(-45)" text-anchor="end" font-size="17.2" textLength="79.44" lengthAdjust="spacingAndGlyphs" fill="#000">Coquitlam</text>
<text transform="translate(449.83,774.50) rotate(-45)" text-anchor="end" font-size="17.2" textLength="123.23" lengthAdjust="spacingAndGlyphs" fill="#000">P.Coq, P.Moody</text>
<text transform="translate(500.12,774.50) rotate(-45)" text-anchor="end" font-size="17.2" textLength="132.28" lengthAdjust="spacingAndGlyphs" fill="#000">NewWest-E.Burn</text>
<text transform="translate(550.41,774.50) rotate(-45)" text-anchor="end" font-size="17.2" textLength="145.96" lengthAdjust="spacingAndGlyphs" fill="#000">Delta-Ladner-Twsn</text>
<text transform="translate(600.70,774.50) rotate(-45)" text-anchor="end" font-size="17.2" textLength="157.72" lengthAdjust="spacingAndGlyphs" fill="#000">White Rock-S.Surrey</text>
<text transform="translate(650.99,774.50) rotate(-45)" text-anchor="end" font-size="17.2" textLength="73.23" lengthAdjust="spacingAndGlyphs" fill="#000">Van Total</text>
<text transform="translate(701.28,774.50) rotate(-45)" text-anchor="end" font-size="17.2" textLength="90.52" lengthAdjust="spacingAndGlyphs" fill="#000">North Delta</text>
<text transform="translate(751.57,774.50) rotate(-45)" text-anchor="end" font-size="17.2" textLength="96.48" lengthAdjust="spacingAndGlyphs" fill="#000">Maple Ridge</text>
<text transform="translate(801.86,774.50) rotate(-45)" text-anchor="end" font-size="17.2" textLength="94.49" lengthAdjust="spacingAndGlyphs" fill="#000">West Surrey</text>
<text transform="translate(852.15,774.50) rotate(-45)" text-anchor="end" font-size="17.2" textLength="86.49" lengthAdjust="spacingAndGlyphs" fill="#000">East Surrey</text>
<text transform="translate(902.44,774.50) rotate(-45)" text-anchor="end" font-size="17.2" textLength="107.20" lengthAdjust="spacingAndGlyphs" fill="#000">Langley,Clvrdl</text>
<text transform="translate(952.73,774.50) rotate(-45)" text-anchor="end" font-size="17.2" textLength="152.72" lengthAdjust="spacingAndGlyphs" fill="#000">Ft Langley-Wlnt Grv</text>
<text transform="translate(1003.02,774.50) rotate(-45)" text-anchor="end" font-size="17.2" textLength="87.17" lengthAdjust="spacingAndGlyphs" fill="#000">Abbotsford</text>
<text transform="translate(1053.31,774.50) rotate(-45)" text-anchor="end" font-size="17.2" textLength="59.79" lengthAdjust="spacingAndGlyphs" fill="#000">Mission</text>
<text transform="translate(1103.60,774.50) rotate(-45)" text-anchor="end" font-size="17.2" textLength="76.87" lengthAdjust="spacingAndGlyphs" fill="#000">Chilliwack</text>
<text transform="translate(1153.89,774.50) rotate(-45)" text-anchor="end" font-size="17.2" textLength="62.87" lengthAdjust="spacingAndGlyphs" fill="#000">FV Total</text>
<text x="898" y="880.9" font-size="15.4" textLength="315" lengthAdjust="spacingAndGlyphs" fill="#000" xml:space="preserve">All rights reserved and  images copyrighted</text>
<text x="28" y="903.1" font-size="17.2" textLength="1082.7" lengthAdjust="spacingAndGlyphs" fill="#000">Data is from : FVREB, REBGV, CADREB Real Estate Board and they assume no responsibility for its accuracy. By: Vancouver Market Reports</text>
</svg></body></html>
